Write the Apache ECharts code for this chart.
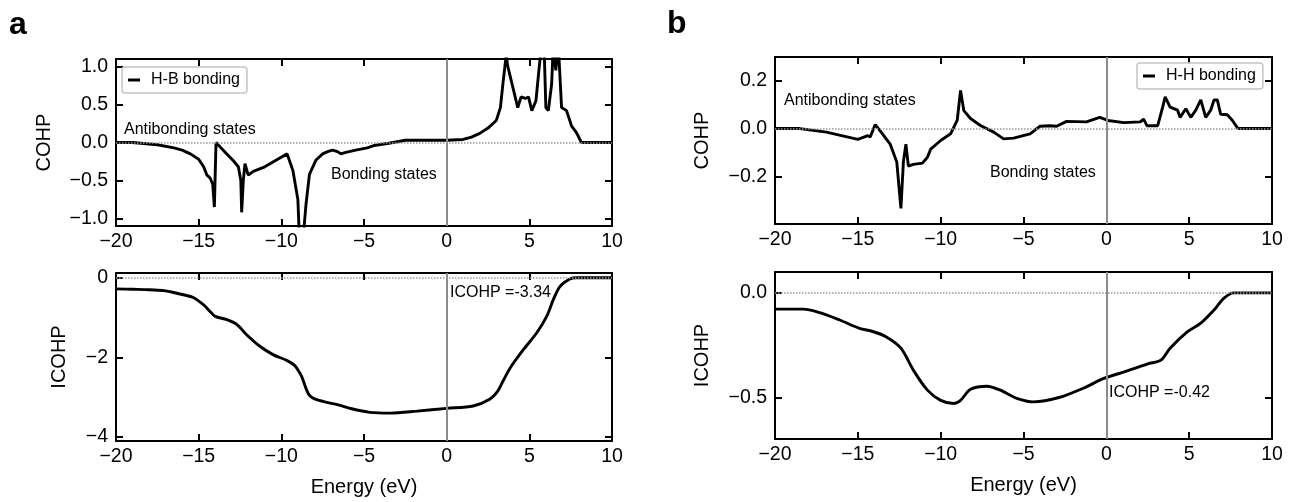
<!DOCTYPE html>
<html>
<head>
<meta charset="utf-8">
<script src="https://cdn.jsdelivr.net/npm/echarts@6/dist/echarts.min.js"></script>
<style>
html,body{margin:0;padding:0;background:#fff;}
#chart{width:1293px;height:502px;}
</style>
</head>
<body>
<div id="chart"></div>
<script>
// ---------- DATA ----------
const energyTicks = [-20, -15, -10, -5, 0, 5, 10];
const energyTickLabels = ['−20', '−15', '−10', '−5', '0', '5', '10'];

const cohpATicks = [-1, -0.5, 0, 0.5, 1];
const cohpATickLabels = ['−1.0', '−0.5', '0.0', '0.5', '1.0'];
const icohpATicks = [-4, -2, 0];
const icohpATickLabels = ['−4', '−2', '0'];
const cohpBTicks = [-0.2, 0, 0.2];
const cohpBTickLabels = ['−0.2', '0.0', '0.2'];
const icohpBTicks = [-0.5, 0];
const icohpBTickLabels = ['−0.5', '0.0'];

// H-B bonding COHP  [energy, value]
const cohpHB = [
  [-20,0],[-19,0],[-18.5,-0.01],[-17.5,-0.03],[-16.5,-0.07],[-16,-0.1],[-15.5,-0.15],[-15,-0.22],
  [-14.7,-0.32],[-14.5,-0.43],[-14.3,-0.47],[-14.15,-0.55],[-14.05,-0.85],[-13.95,0.0],[-13.7,-0.06],
  [-13.3,-0.15],[-12.9,-0.24],[-12.6,-0.32],[-12.45,-0.5],[-12.4,-0.92],[-12.3,-0.5],[-12.2,-0.28],
  [-12.0,-0.43],[-11.7,-0.38],[-11,-0.32],[-10.3,-0.23],[-9.65,-0.15],[-9.3,-0.37],[-9.0,-0.75],
  [-8.9,-1.3],[-8.7,-1.3],[-8.5,-0.8],[-8.3,-0.42],[-7.9,-0.23],[-7.5,-0.15],[-7.2,-0.12],[-6.9,-0.1],
  [-6.6,-0.12],[-6.4,-0.15],[-6.1,-0.13],[-5.5,-0.1],[-4.8,-0.07],[-4.4,-0.04],[-3.5,-0.01],[-2.5,0.03],
  [-1.5,0.03],[0,0.03],[1,0.04],[1.5,0.07],[2,0.12],[2.5,0.19],[3.0,0.29],[3.25,0.46],[3.4,0.77],
  [3.6,1.15],[3.7,1.0],[4.0,0.73],[4.3,0.46],[4.5,0.6],[4.75,0.58],[4.95,0.6],[5.15,0.42],[5.4,0.55],
  [5.6,1.0],[5.75,1.3],[5.9,1.2],[6.0,0.46],[6.15,0.42],[6.35,0.77],[6.45,1.3],[6.6,0.95],[6.75,1.3],
  [6.95,0.46],[7.25,0.42],[7.35,0.44],[7.55,0.22],[7.85,0.13],[8.15,0],[10,0]
];

// H-B bonding ICOHP
const icohpHB = [
  [-20,-0.28],[-19,-0.29],[-18,-0.3],[-17,-0.33],[-16.5,-0.37],[-16,-0.42],[-15.3,-0.5],[-14.7,-0.68],
  [-14.3,-0.85],[-14.0,-0.97],[-13.3,-1.05],[-12.7,-1.17],[-12.1,-1.43],[-11.3,-1.72],[-10.5,-1.93],
  [-9.65,-2.08],[-9.2,-2.2],[-8.9,-2.38],[-8.75,-2.5],[-8.45,-2.84],[-8.26,-2.97],[-7.95,-3.05],
  [-7.25,-3.13],[-6.5,-3.2],[-5.85,-3.28],[-4.65,-3.38],[-3.4,-3.4],[-1.8,-3.35],[0,-3.28],[1.6,-3.22],
  [2.6,-3.05],[3.1,-2.84],[3.4,-2.6],[3.85,-2.26],[4.65,-1.8],[5.45,-1.38],[6.05,-0.97],[6.45,-0.55],
  [6.85,-0.22],[7.45,-0.03],[7.85,0.0],[10,0.0]
];

// H-H bonding COHP
const cohpHH = [
  [-20,0],[-18.5,0],[-16.9,-0.015],[-15,-0.045],[-14.4,-0.03],[-14.25,-0.035],[-13.95,0.017],
  [-13.65,-0.01],[-13.05,-0.065],[-12.65,-0.14],[-12.4,-0.335],[-12.25,-0.14],[-12.1,-0.065],
  [-11.95,-0.157],[-11.65,-0.15],[-11.1,-0.145],[-10.8,-0.12],[-10.6,-0.086],[-10.0,-0.05],
  [-9.4,-0.022],[-9.0,0.035],[-8.8,0.16],[-8.6,0.075],[-8.2,0.042],[-7.6,0.013],[-6.8,-0.015],
  [-6.2,-0.043],[-5.6,-0.04],[-4.6,-0.022],[-4.0,0.01],[-3.4,0.012],[-3.0,0.01],[-2.4,0.03],
  [-1.2,0.028],[-0.4,0.047],[0.1,0.034],[1.05,0.025],[2.05,0.028],[2.25,0.04],[2.45,0.012],
  [3.1,0.012],[3.4,0.09],[3.55,0.133],[3.85,0.09],[4.3,0.077],[4.45,0.047],[4.8,0.083],[5.1,0.047],
  [5.4,0.077],[5.7,0.12],[6.0,0.047],[6.3,0.077],[6.5,0.12],[6.7,0.12],[6.9,0.06],[7.3,0.058],
  [7.6,0.035],[7.95,0],[10,0]
];

// H-H bonding ICOHP
const icohpHH = [
  [-20,-0.078],[-18.3,-0.078],[-17.3,-0.095],[-16.1,-0.13],[-14.9,-0.17],[-14.1,-0.185],[-13.3,-0.21],
  [-12.4,-0.265],[-11.65,-0.37],[-10.8,-0.466],[-10.0,-0.515],[-9.2,-0.53],[-8.8,-0.515],[-8.2,-0.462],
  [-7.2,-0.447],[-6.4,-0.466],[-5.4,-0.505],[-4.4,-0.522],[-2.8,-0.5],[-1.4,-0.457],[-0.15,-0.41],
  [1.3,-0.373],[2.5,-0.34],[3.3,-0.322],[3.85,-0.265],[4.9,-0.186],[5.7,-0.145],[6.5,-0.082],
  [7.1,-0.025],[7.7,0],[10,0]
];

// ---------- CHART ----------
const FONT = 'Liberation Sans, Arial, Helvetica, sans-serif';
const grids = [
  {left:116, top:59, width:496, height:167},
  {left:116, top:273, width:496, height:168},
  {left:775, top:57, width:497, height:167},
  {left:775, top:272, width:497, height:167}
];
const yCfg = [
  {min:-1.1, max:1.1, ticks:cohpATicks, labels:cohpATickLabels, name:'COHP', gap:62},
  {min:-4.1, max:0.12, ticks:icohpATicks, labels:icohpATickLabels, name:'ICOHP', gap:47},
  {min:-0.4, max:0.3, ticks:cohpBTicks, labels:cohpBTickLabels, name:'COHP', gap:63},
  {min:-0.7, max:0.1, ticks:icohpBTicks, labels:icohpBTickLabels, name:'ICOHP', gap:63}
];
const axisLine = {show:true, onZero:false, lineStyle:{color:'#000', width:2}};
const tick = {show:true, inside:true, length:7, lineStyle:{color:'#000', width:2}};
const xAxes = [], yAxes = [];
grids.forEach((g, i) => {
  const isBottom = (i % 2 === 1);
  xAxes.push({
    gridIndex:i, type:'value', position:'bottom', min:-20, max:10, interval:5,
    axisLine, axisTick:tick, splitLine:{show:false},
    axisLabel:{color:'#000', fontSize:19.5, fontFamily:FONT, margin:6,
      formatter:v => energyTickLabels[energyTicks.indexOf(v)] ?? ''},
    name: isBottom ? 'Energy (eV)' : '', nameLocation:'middle', nameGap:36,
    nameTextStyle:{color:'#000', fontSize:20, fontFamily:FONT}
  });
  xAxes.push({
    gridIndex:i, type:'value', position:'top', min:-20, max:10, interval:5,
    axisLine, axisTick:tick, splitLine:{show:false}, axisLabel:{show:false}
  });
  const c = yCfg[i];
  yAxes.push({
    gridIndex:i, type:'value', position:'left', min:c.min, max:c.max,
    axisLine, splitLine:{show:false},
    axisTick:Object.assign({customValues:c.ticks}, tick),
    axisLabel:{customValues:c.ticks, color:'#000', fontSize:19.5, fontFamily:FONT, margin:8,
      formatter:v => { const k = c.ticks.findIndex(t => Math.abs(t - v) < 1e-9); return k >= 0 ? c.labels[k] : ''; }},
    name:c.name, nameLocation:'middle', nameGap:c.gap, nameRotate:90,
    nameTextStyle:{color:'#000', fontSize:20, fontFamily:FONT}
  });
  yAxes.push({
    gridIndex:i, type:'value', position:'right', min:c.min, max:c.max,
    axisLine, splitLine:{show:false},
    axisTick:Object.assign({customValues:c.ticks}, tick),
    axisLabel:{show:false}
  });
});

const refLines = {
  silent:true, symbol:'none', label:{show:false},
  data:[
    {xAxis:0, lineStyle:{color:'#8c8c8c', width:2, type:'solid'}},
    {yAxis:0, lineStyle:{color:'#999', width:1.5, type:'dotted'}}
  ]
};
function lineSeries(name, data, idx, smooth) {
  return {
    name, type:'line', data, xAxisIndex:idx*2, yAxisIndex:idx*2,
    showSymbol:false, symbol:'none', smooth:smooth, clip:true,
    lineStyle:{color:'#000', width:2.9}, itemStyle:{color:'#000'},
    markLine:refLines, z:3
  };
}

const legendBase = {
  orient:'vertical', icon:'rect', itemWidth:12, itemHeight:3,
  borderColor:'#c4c4c4', borderWidth:1.5, borderRadius:3, padding:[5,7,5,6],
  backgroundColor:'#fff',
  textStyle:{color:'#000', fontSize:16, fontFamily:FONT, padding:[0,0,0,6]}
};

const textStyle = (t, x, y) => ({
  type:'text', x, y,
  style:{text:t, fill:'#000', font:'16px ' + FONT, verticalAlign:'middle'}
});

const option = {
  animation:false,
  backgroundColor:'#fff',
  grid:grids,
  xAxis:xAxes,
  yAxis:yAxes,
  legend:[
    Object.assign({data:['H-B bonding'], left:122, top:67}, legendBase),
    Object.assign({data:['H-H bonding'], left:1137, top:63}, legendBase)
  ],
  series:[
    lineSeries('H-B bonding', cohpHB, 0, false),
    lineSeries('H-B ICOHP', icohpHB, 1, 0.3),
    lineSeries('H-H bonding', cohpHH, 2, false),
    lineSeries('H-H ICOHP', icohpHH, 3, 0.3)
  ],
  graphic:[
    {type:'text', x:9, y:25, style:{text:'a', fill:'#000', font:'bold 32px ' + FONT, verticalAlign:'middle'}},
    {type:'text', x:667, y:24, style:{text:'b', fill:'#000', font:'bold 32px ' + FONT, verticalAlign:'middle'}},
    textStyle('Antibonding states', 124, 130),
    textStyle('Bonding states', 331, 175),
    textStyle('ICOHP =-3.34', 450, 293),
    textStyle('Antibonding states', 784, 101),
    textStyle('Bonding states', 990, 173),
    textStyle('ICOHP =-0.42', 1109, 393)
  ]
};

const chart = echarts.init(document.getElementById('chart'), null, {renderer:'canvas'});
chart.setOption(option);
</script>
</body>
</html>
